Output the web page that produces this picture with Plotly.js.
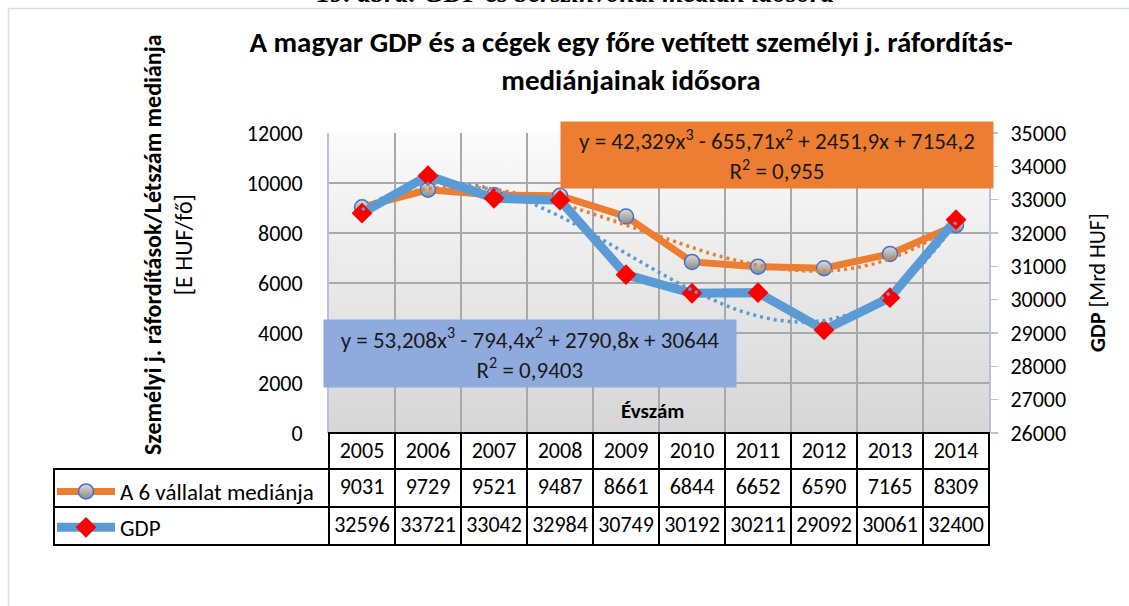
<!DOCTYPE html>
<html>
<head>
<meta charset="utf-8">
<script src="https://cdn.plot.ly/plotly-3.0.1.min.js"></script>
<style>html,body{margin:0;padding:0;background:#fff;}#chart{width:1129px;height:606px;}</style>
</head>
<body>
<div id="chart"></div>
<script>
// ---- data ----
const years = [2005, 2006, 2007, 2008, 2009, 2010, 2011, 2012, 2013, 2014];
const medianValues = [9031, 9729, 9521, 9487, 8661, 6844, 6652, 6590, 7165, 8309];
const gdpValues = [32596, 33721, 33042, 32984, 30749, 30192, 30211, 29092, 30061, 32400];
const seriesNames = ['A 6 vállalat mediánja', 'GDP'];
// trendline coefficients as printed on the chart (x = 1..10), highest power first
const medianTrendCoef = [42.329, -655.71, 2451.9, 7154.2];
const gdpTrendCoef = [53.208, -794.4, 2790.8, 30644];
const medianTrendText = 'y = 42,329x<sup>3</sup> - 655,71x<sup>2</sup> + 2451,9x + 7154,2<br>R<sup>2</sup> = 0,955';
const gdpTrendText = 'y = 53,208x<sup>3</sup> - 794,4x<sup>2</sup> + 2790,8x + 30644<br>R<sup>2</sup> = 0,9403';
const leftTicks = [0, 2000, 4000, 6000, 8000, 10000, 12000];
const rightTicks = [26000, 27000, 28000, 29000, 30000, 31000, 32000, 33000, 34000, 35000];

// ---- layout helpers (pixel -> paper) ----
const W = 1129, H = 606;
const M = {l: 54, r: 140, t: 133, b: 60};
const PW = W - M.l - M.r, PH = H - M.t - M.b;
const px = x => (x - M.l) / PW;
const py = y => (H - M.b - y) / PH;
const FONT = 'Carlito, Lato, sans-serif';

function poly(c, t) { return c.reduce((a, k) => a * t + k, 0); }
const trendT = [];
for (let t = 1; t <= 10.0001; t += 0.25) trendT.push(t);
const trendX = trendT.map(t => years[0] - 1 + t);

const xDomain = [px(329), 1];
const yDomain = [py(433), 1];

const traces = [
  {
    type: 'scatter', mode: 'lines+markers', name: seriesNames[0],
    x: years, y: medianValues, xaxis: 'x', yaxis: 'y',
    line: {color: '#ed7d31', width: 7},
    marker: {symbol: 'circle', size: 15, color: '#dcdcdc',
             gradient: {type: 'vertical', color: '#8a8a8a'},
             line: {color: '#4472c4', width: 1.5}},
    legendgroup: 'a', legendrank: 1
  },
  {
    type: 'scatter', mode: 'lines', showlegend: false, hoverinfo: 'skip',
    x: trendX, y: trendT.map(t => poly(medianTrendCoef, t)), xaxis: 'x', yaxis: 'y',
    line: {color: '#ed7d31', width: 3.5, dash: '3px,4px'}
  },
  {
    type: 'scatter', mode: 'lines+markers', name: seriesNames[1],
    x: years, y: gdpValues, xaxis: 'x', yaxis: 'y2',
    line: {color: '#5b9bd5', width: 9},
    marker: {symbol: 'diamond', size: 16, color: '#ff0000', line: {width: 0}},
    legendgroup: 'b', legendrank: 2
  },
  {
    type: 'scatter', mode: 'lines', showlegend: false, hoverinfo: 'skip',
    x: trendX, y: trendT.map(t => poly(gdpTrendCoef, t)), xaxis: 'x', yaxis: 'y2',
    line: {color: '#5b9bd5', width: 3.5, dash: '3px,4px'}
  },
  {
    type: 'table',
    domain: {x: [0, 1], y: [0, py(433)]},
    columnwidth: [275].concat(years.map(() => 66)),
    header: {
      values: [''].concat(years.map(String)),
      height: 36, align: 'center',
      line: {color: ['rgba(0,0,0,0)'].concat(years.map(() => '#000')), width: 1.5},
      fill: {color: 'rgba(0,0,0,0)'},
      font: {family: FONT, size: 22, color: '#000'}
    },
    cells: {
      values: [['', '']].concat(years.map((y, i) => [medianValues[i], gdpValues[i]])),
      height: 38, align: 'center',
      line: {color: '#000', width: 1.5},
      fill: {color: 'rgba(0,0,0,0)'},
      font: {family: FONT, size: 22, color: '#000'}
    }
  }
];

const gradSvg = '<svg xmlns="http://www.w3.org/2000/svg" width="100" height="100" preserveAspectRatio="none">' +
  '<defs><linearGradient id="g" x1="0" y1="0" x2="0" y2="1">' +
  '<stop offset="0" stop-color="#fbfbfb"/><stop offset="1" stop-color="#d6d6d6"/></linearGradient></defs>' +
  '<rect width="100" height="100" fill="url(#g)"/></svg>';

const layout = {
  width: W, height: H,
  margin: M,
  paper_bgcolor: '#ffffff',
  plot_bgcolor: 'rgba(0,0,0,0)',
  font: {family: FONT, size: 22, color: '#000'},
  title: {
    text: '<b>A magyar GDP és a cégek egy főre vetített személyi j. ráfordítás-<br>mediánjainak idősora</b>',
    x: 631 / W, xref: 'container', xanchor: 'center',
    y: 1 - 52 / H, yref: 'container', yanchor: 'top',
    font: {family: FONT, size: 29, color: '#000'}
  },
  showlegend: true,
  legend: {
    x: px(52), xanchor: 'left', y: py(470), yanchor: 'top',
    traceorder: 'grouped', tracegroupgap: 3,
    bgcolor: 'rgba(0,0,0,0)', borderwidth: 0,
    font: {family: FONT, size: 23, color: '#000'},
    itemwidth: 58, valign: 'middle'
  },
  xaxis: {
    domain: xDomain, type: 'linear',
    range: [years[0] - 0.5, years[years.length - 1] + 0.5],
    tick0: years[0] - 0.5, dtick: 1,
    showgrid: true, gridcolor: '#a9a9a9', gridwidth: 1.5,
    showticklabels: false, ticks: '', zeroline: false, showline: false
  },
  yaxis: {
    domain: yDomain, range: [leftTicks[0], leftTicks[leftTicks.length - 1]],
    tickvals: leftTicks, ticktext: leftTicks.map(String), ticks: '', ticklabelstandoff: 20,
    showgrid: true, gridcolor: '#a9a9a9', gridwidth: 1.5,
    zeroline: false, showline: true, linecolor: '#b7c2da', linewidth: 2,
    tickfont: {family: FONT, size: 22, color: '#000'}
  },
  yaxis2: {
    overlaying: 'y', side: 'right',
    range: [rightTicks[0], rightTicks[rightTicks.length - 1]],
    tickvals: rightTicks, ticktext: rightTicks.map(String),
    ticks: 'outside', ticklen: 7, tickwidth: 1.5, tickcolor: '#b7c2da',
    ticklabelstandoff: 8,
    showgrid: false, zeroline: false, showline: true, linecolor: '#b7c2da', linewidth: 2,
    tickfont: {family: FONT, size: 22, color: '#000'}
  },
  images: [{
    source: 'data:image/svg+xml;charset=utf-8,' + encodeURIComponent(gradSvg),
    xref: 'paper', yref: 'paper', x: xDomain[0], y: 1,
    sizex: 1 - xDomain[0], sizey: 1 - yDomain[0],
    xanchor: 'left', yanchor: 'top', sizing: 'stretch', layer: 'below'
  }],
  shapes: [{
    type: 'rect', xref: 'paper', yref: 'paper', layer: 'below',
    x0: px(8.5), x1: px(1160), y0: py(640), y1: py(8.5),
    line: {color: '#d9dde3', width: 1.5}, fillcolor: 'rgba(0,0,0,0)'
  }],
  annotations: [
    {
      text: '<b><i>19. ábra: GDP és bérszínvonal medián idősora</i></b>',
      xref: 'paper', yref: 'paper', x: px(575), y: py(10), xanchor: 'center', yanchor: 'bottom',
      showarrow: false, font: {family: 'Liberation Serif, serif', size: 27, color: '#000'}
    },
    {
      text: '<b>Személyi j. ráfordítások/Létszám mediánja</b><br>[E HUF/fő]',
      xref: 'paper', yref: 'paper', x: px(168), y: py(245), xanchor: 'center', yanchor: 'middle',
      textangle: -90, showarrow: false, font: {family: FONT, size: 24, color: '#000'}
    },
    {
      text: '<b>GDP</b> [Mrd HUF]',
      xref: 'paper', yref: 'paper', x: px(1097), y: py(283), xanchor: 'center', yanchor: 'middle',
      textangle: -90, showarrow: false, font: {family: FONT, size: 22, color: '#000'}
    },
    {
      text: '<b>Évszám</b>',
      xref: 'paper', yref: 'paper', x: px(652), y: py(411), xanchor: 'center', yanchor: 'middle',
      showarrow: false, font: {family: FONT, size: 21, color: '#000'}
    },
    {
      text: medianTrendText,
      xref: 'paper', yref: 'paper', x: px(777), y: py(155), xanchor: 'center', yanchor: 'middle',
      width: 432, height: 66, borderpad: 0, bgcolor: '#ed7d31', align: 'center',
      showarrow: false, font: {family: FONT, size: 23, color: '#1a1a1a'}
    },
    {
      text: gdpTrendText,
      xref: 'paper', yref: 'paper', x: px(530), y: py(353.5), xanchor: 'center', yanchor: 'middle',
      width: 412, height: 67, borderpad: 0, bgcolor: '#8faadc', align: 'center',
      showarrow: false, font: {family: FONT, size: 23, color: '#1a1a1a'}
    }
  ]
};

Plotly.newPlot('chart', traces, layout, {staticPlot: true, displayModeBar: false});
</script>
</body>
</html>
